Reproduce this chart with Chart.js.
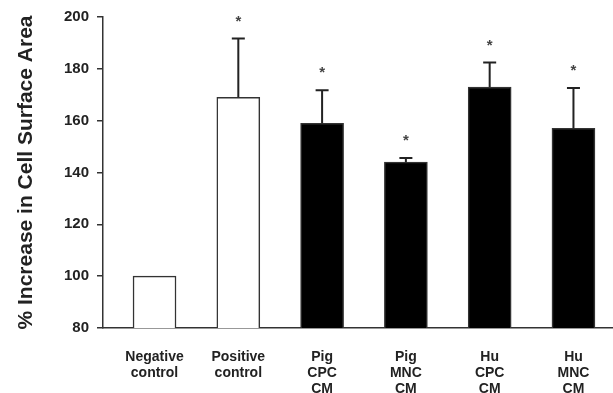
<!DOCTYPE html>
<html>
<head>
<meta charset="utf-8">
<script src="https://cdn.jsdelivr.net/npm/chart.js@4.4.0/dist/chart.umd.min.js"></script>
<style>
  html, body { margin: 0; padding: 0; background: #fff; }
  #wrap { width: 613px; height: 393px; }
</style>
</head>
<body>
<div id="wrap"><canvas id="chart"></canvas></div>
<script>
// Data
const groups = [
  ["Negative", "control"],
  ["Positive", "control"],
  ["Pig", "CPC", "CM"],
  ["Pig", "MNC", "CM"],
  ["Hu", "CPC", "CM"],
  ["Hu", "MNC", "CM"]
];
const means = [100, 169, 159, 144, 173, 157];
const errors = [0, 22.7, 12.7, 1.6, 9.4, 15.6];
const significant = [false, true, true, true, true, true];
const fills = ["#ffffff", "#ffffff", "#000000", "#000000", "#000000", "#000000"];
const yTicks = [80, 100, 120, 140, 160, 180, 200];

// upper error bars and asterisks
const errorBars = {
  id: "errorBars",
  afterDatasetsDraw(chart) {
    const ctx = chart.ctx;
    const y = chart.scales.y;
    const meta = chart.getDatasetMeta(0);
    ctx.save();
    ctx.strokeStyle = "#222";
    ctx.lineWidth = 2;
    meta.data.forEach((bar, i) => {
      let top = y.getPixelForValue(means[i] + errors[i]);
      if (errors[i] > 0) {
        ctx.beginPath();
        ctx.moveTo(bar.x, bar.y);
        ctx.lineTo(bar.x, top);
        ctx.moveTo(bar.x - 6.5, top);
        ctx.lineTo(bar.x + 6.5, top);
        ctx.stroke();
      }
      if (significant[i]) {
        ctx.fillStyle = "#444";
        ctx.font = "bold 15px 'Liberation Sans', Arial, sans-serif";
        ctx.textAlign = "center";
        ctx.textBaseline = "middle";
        ctx.fillText("*", bar.x, top - 17);
      }
    });
    ctx.restore();
  }
};

new Chart(document.getElementById("chart"), {
  type: "bar",
  data: {
    datasets: [
      {
        data: means.map((v, i) => ({ x: i, y: v })),
        backgroundColor: fills,
        borderColor: "#333",
        borderWidth: 1.5,
        borderSkipped: "bottom",
        barThickness: 43
      }
    ]
  },
  plugins: [errorBars],
  options: {
    responsive: true,
    maintainAspectRatio: false,
    animation: false,
    layout: { padding: { top: 16, right: 1, left: 0, bottom: 0 } },
    plugins: {
      legend: { display: false },
      tooltip: { enabled: false }
    },
    scales: {
      x: {
        type: "linear",
        offset: false,
        min: -0.615,
        max: 5.46,
        afterBuildTicks: (scale) => {
          scale.ticks = groups.map((g, i) => ({ value: i }));
        },
        afterFit: (scale) => { scale.height = 65; },
        grid: { display: false },
        border: { display: true, color: "#333", width: 1.5 },
        ticks: {
          color: "#222",
          padding: 13,
          maxRotation: 0,
          autoSkip: false,
          font: { family: "'Liberation Sans', Arial, sans-serif", size: 14, weight: "bold", lineHeight: 1.15 },
          callback: (value) => groups[value] || ""
        }
      },
      y: {
        min: 80,
        max: 200,
        afterBuildTicks: (scale) => {
          scale.ticks = yTicks.map(v => ({ value: v }));
        },
        afterFit: (scale) => { scale.width = 103; },
        grid: { drawOnChartArea: false, drawTicks: true, tickLength: 6, color: "#333", lineWidth: 1.5 },
        border: { display: true, color: "#333", width: 1.5 },
        ticks: {
          color: "#222",
          padding: 8,
          font: { family: "'Liberation Sans', Arial, sans-serif", size: 15, weight: "bold" }
        },
        title: {
          display: true,
          text: "% Increase in Cell Surface Area",
          color: "#222",
          padding: { top: 14, bottom: 0 },
          font: { family: "'Liberation Sans', Arial, sans-serif", size: 21, weight: "bold" }
        }
      }
    }
  }
});
</script>
</body>
</html>
